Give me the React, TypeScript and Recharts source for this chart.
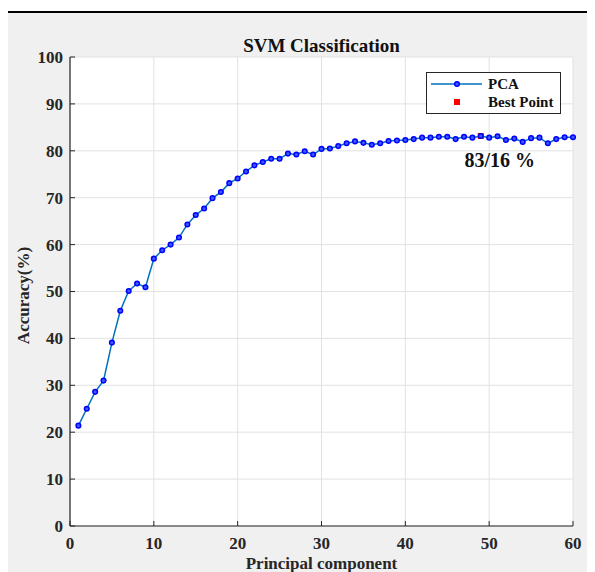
import React from 'react';
import { LineChart, Line, XAxis, YAxis, CartesianGrid, ReferenceDot, Legend } from 'recharts';

const components: number[] = Array.from({ length: 60 }, (_, i) => i + 1);
const accuracy: number[] = [
  21.4, 25.0, 28.6, 31.0, 39.1, 45.9, 50.1, 51.7, 50.9, 57.0,
  58.8, 60.0, 61.5, 64.3, 66.3, 67.7, 69.9, 71.2, 73.1, 74.1,
  75.6, 76.9, 77.6, 78.3, 78.3, 79.4, 79.2, 79.9, 79.2, 80.4,
  80.5, 81.0, 81.6, 82.0, 81.7, 81.3, 81.6, 82.1, 82.2, 82.3,
  82.5, 82.8, 82.8, 83.0, 83.0, 82.5, 83.0, 82.8, 83.16, 82.8,
  83.1, 82.3, 82.6, 81.9, 82.7, 82.8, 81.6, 82.5, 82.9, 82.9,
];
const xTicks: number[] = [0, 10, 20, 30, 40, 50, 60];
const yTicks: number[] = [0, 10, 20, 30, 40, 50, 60, 70, 80, 90, 100];
const bestComponent = 49;
const bestAccuracy = 83.16;
const bestLabel = '83/16 %';
const seriesName = 'PCA';
const bestName = 'Best Point';
const title = 'SVM Classification';
const xTitle = 'Principal component';
const yTitle = 'Accuracy(%)';

const data = components.map((pc, i) => ({ pc, acc: accuracy[i] }));

const FONT = '"Liberation Serif", "Times New Roman", serif';
const AXIS = '#262626';
const TXT = '#262626';

const YTick = (props: any) => {
  const { x, y, payload } = props;
  return (
    <g>
      <line x1={x} x2={x + 5} y1={y} y2={y} stroke={AXIS} strokeWidth={1} />
      <text x={x - 7} y={y} dy="0.35em" textAnchor="end" fontFamily={FONT} fontWeight="bold" fontSize={17} fill={TXT}>
        {payload.value}
      </text>
    </g>
  );
};

const XTick = (props: any) => {
  const { x, y, payload } = props;
  return (
    <g>
      <line x1={x} x2={x} y1={y} y2={y - 5} stroke={AXIS} strokeWidth={1} />
      <text x={x} y={y + 23} textAnchor="middle" fontFamily={FONT} fontWeight="bold" fontSize={17} fill={TXT}>
        {payload.value}
      </text>
    </g>
  );
};

const BestShape = (props: any) => {
  const { cx, cy } = props;
  return (
    <g>
      <rect x={cx - 3} y={cy - 3} width={6} height={6} fill="#ff0000" />
      <text x={cx + 19} y={cy + 31} textAnchor="middle" fontFamily={FONT} fontWeight="bold" fontSize={20} fill="#111">
        {bestLabel}
      </text>
    </g>
  );
};

const LegendBox = () => (
  <svg width={136} height={42} style={{ display: 'block' }}>
    <rect x={0.5} y={0.5} width={134} height={41} fill="#ffffff" stroke={AXIS} strokeWidth={1} />
    <line x1={5} x2={56} y1={12} y2={12} stroke="#0072BD" strokeWidth={1.5} />
    <circle cx={31} cy={12} r={2.3} fill="#3a5cff" stroke="#0000ff" strokeWidth={1.5} />
    <text x={62} y={17} fontFamily={FONT} fontWeight="bold" fontSize={15} fill="#111">{seriesName}</text>
    <rect x={28} y={27} width={6} height={6} fill="#ff0000" />
    <text x={62} y={35} fontFamily={FONT} fontWeight="bold" fontSize={15} fill="#111">{bestName}</text>
  </svg>
);

export default function App() {
  return (
    <div style={{ position: 'relative', width: 587, height: 564 }}>
      <div style={{ position: 'absolute', left: 0, top: 3, width: 587, height: 2, background: '#000' }} />
      <div style={{ position: 'absolute', left: 0, top: 5, width: 587, height: 559, background: '#f0f0f0' }} />
      <div style={{ position: 'absolute', left: 0, top: 0 }}>
        <LineChart width={587} height={564} data={data} margin={{ top: 49, right: 22, left: 0, bottom: 0 }}>
          <CartesianGrid stroke="#e2e2e2" fill="#ffffff" strokeWidth={1} />
          <XAxis
            dataKey="pc"
            type="number"
            domain={[0, 60]}
            ticks={xTicks}
            height={46}
            tickSize={0}
            tickMargin={0}
            tickLine={false}
            axisLine={{ stroke: AXIS, strokeWidth: 1.2 }}
            tick={<XTick />}
            interval={0}
            label={{
              content: (p: any) => {
                const vb = p.viewBox;
                return (
                  <text x={vb.x + vb.width / 2} y={vb.y + 43} textAnchor="middle" fontFamily={FONT} fontWeight="bold" fontSize={17} fill={TXT}>
                    {xTitle}
                  </text>
                );
              },
            }}
          />
          <YAxis
            type="number"
            domain={[0, 100]}
            ticks={yTicks}
            width={62}
            tickSize={0}
            tickMargin={0}
            tickLine={false}
            axisLine={{ stroke: AXIS, strokeWidth: 1.2 }}
            tick={<YTick />}
            interval={0}
            label={{
              content: (p: any) => {
                const vb = p.viewBox;
                const cx = 21;
                const cy = vb.y + vb.height / 2 + 4;
                return (
                  <text x={cx} y={cy} transform={`rotate(-90 ${cx} ${cy})`} textAnchor="middle" fontFamily={FONT} fontWeight="bold" fontSize={17} fill={TXT}>
                    {yTitle}
                  </text>
                );
              },
            }}
          />
          <text x={313.5} y={43.5} textAnchor="middle" fontFamily={FONT} fontWeight="bold" fontSize={19} fill="#111">
            {title}
          </text>
          <Legend
            layout="vertical"
            align="center"
            verticalAlign="middle"
            content={() => <LegendBox />}
            wrapperStyle={{ position: 'absolute', left: 417.5, top: 63.5, width: 136, height: 42 }}
          />
          <Line
            type="linear"
            dataKey="acc"
            name={seriesName}
            stroke="#0072BD"
            strokeWidth={1.5}
            dot={{ r: 2.3, stroke: '#0000ff', strokeWidth: 1.5, fill: '#3a5cff' }}
            activeDot={false}
            isAnimationActive={false}
          />
          <ReferenceDot x={bestComponent} y={bestAccuracy} r={3} shape={<BestShape />} ifOverflow="visible" />
        </LineChart>
      </div>
    </div>
  );
}
